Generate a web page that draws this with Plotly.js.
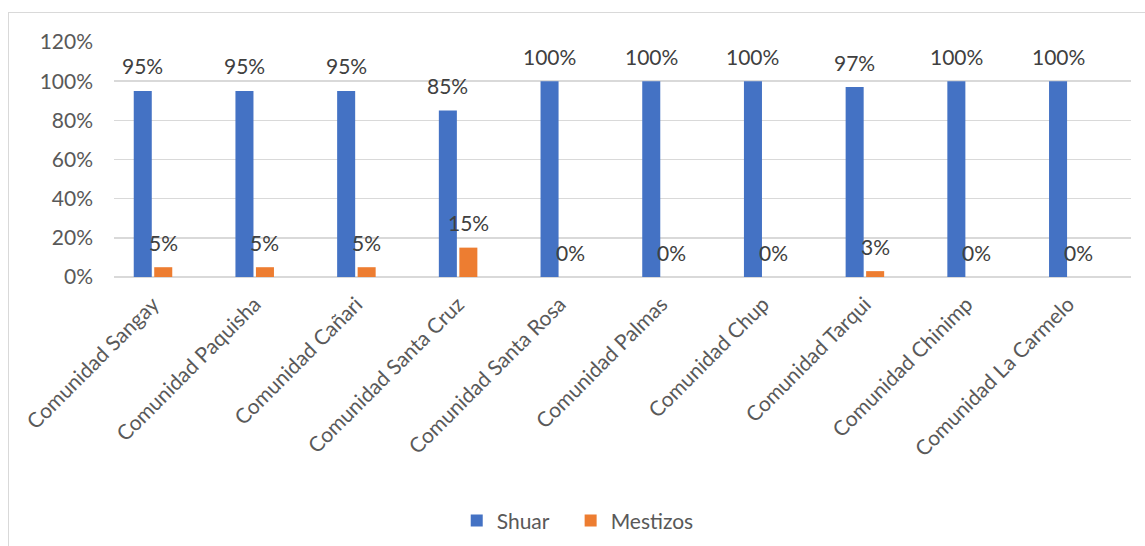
<!DOCTYPE html>
<html>
<head>
<meta charset="utf-8">
<script src="https://cdn.plot.ly/plotly-3.0.1.min.js"></script>
<style>
  html, body { margin: 0; padding: 0; background: #fff; }
  #chart { position: absolute; left: 0; top: 0; width: 1145px; height: 546px; }
  #frame { position: absolute; left: 8px; top: 12px; width: 1200px; height: 600px;
           border: 1.5px solid #d9d9d9; pointer-events: none; box-sizing: border-box; }
</style>
</head>
<body>
<div id="chart"></div>
<div id="frame"></div>
<script>
const categories = ["Comunidad Sangay", "Comunidad Paquisha", "Comunidad Cañari", "Comunidad Santa Cruz",
  "Comunidad Santa Rosa", "Comunidad Palmas", "Comunidad Chup", "Comunidad Tarqui",
  "Comunidad Chinimp", "Comunidad La Carmelo"];
const shuar = [0.95, 0.95, 0.95, 0.85, 1.00, 1.00, 1.00, 0.97, 1.00, 1.00];
const mestizos = [0.05, 0.05, 0.05, 0.15, 0.00, 0.00, 0.00, 0.03, 0.00, 0.00];
const yTicks = [0, 0.2, 0.4, 0.6, 0.8, 1.0, 1.2];

const FONT = "Lato, 'Open Sans', sans-serif";
const labelFont = {family: FONT, size: 21, color: "#404040"};

const BARGAP = 0.597, GROUPGAP = 0.12;
const slot = (1 - BARGAP) / 2;   // width of one series slot in category units

const traces = [
  {type: "bar", name: "Shuar", x: categories, y: shuar,
   marker: {color: "#4472c4"}, legend: "legend", hoverinfo: "none"},
  {type: "bar", name: "Mestizos", x: categories, y: mestizos,
   marker: {color: "#ed7d31"}, legend: "legend2", hoverinfo: "none"}
];

// data labels, placed through the axis scales above each bar
const annotations = [];
[shuar, mestizos].forEach((vals, s) => {
  vals.forEach((v, i) => {
    annotations.push({
      xref: "x", yref: "y", x: i + (s === 0 ? -slot / 2 : slot / 2), y: v,
      text: Math.round(v * 100) + "%", showarrow: false,
      xanchor: "center", yanchor: "middle", yshift: 25, font: labelFont
    });
  });
});

const legendFont = {family: FONT, size: 21, color: "#595959"};
const layout = {
  width: 1145, height: 546,
  margin: {l: 114, r: 14, t: 42, b: 269, autoexpand: false},
  paper_bgcolor: "rgba(0,0,0,0)", plot_bgcolor: "rgba(0,0,0,0)",
  barmode: "group", bargap: BARGAP, bargroupgap: GROUPGAP,
  font: {family: FONT, size: 21, color: "#595959"},
  xaxis: {type: "category", range: [-0.3835, 9.6165], tickangle: -45,
          showgrid: false, showline: false, zeroline: false, ticks: "",
          ticklabelstandoff: 10,
          tickfont: {family: FONT, size: 21, color: "#595959"}, automargin: false},
  yaxis: {range: [0, 1.2], tickvals: yTicks, tickformat: ".0%", showgrid: true,
          gridcolor: "#d9d9d9", gridwidth: 1.5, zeroline: true, zerolinecolor: "#d9d9d9",
          zerolinewidth: 1.5, showline: false, ticks: "", ticklen: 0,
          ticklabelstandoff: 20,
          tickfont: {family: FONT, size: 21, color: "#595959"}, automargin: false},
  legend: {orientation: "h", x: 0.337, xanchor: "left", y: -1.038, yanchor: "middle",
           font: legendFont, itemwidth: 30},
  legend2: {orientation: "h", x: 0.449, xanchor: "left", y: -1.038, yanchor: "middle",
           font: legendFont, itemwidth: 30},
  annotations: annotations,
  showlegend: true
};

Plotly.newPlot("chart", traces, layout, {displayModeBar: false, staticPlot: true});
</script>
</body>
</html>
